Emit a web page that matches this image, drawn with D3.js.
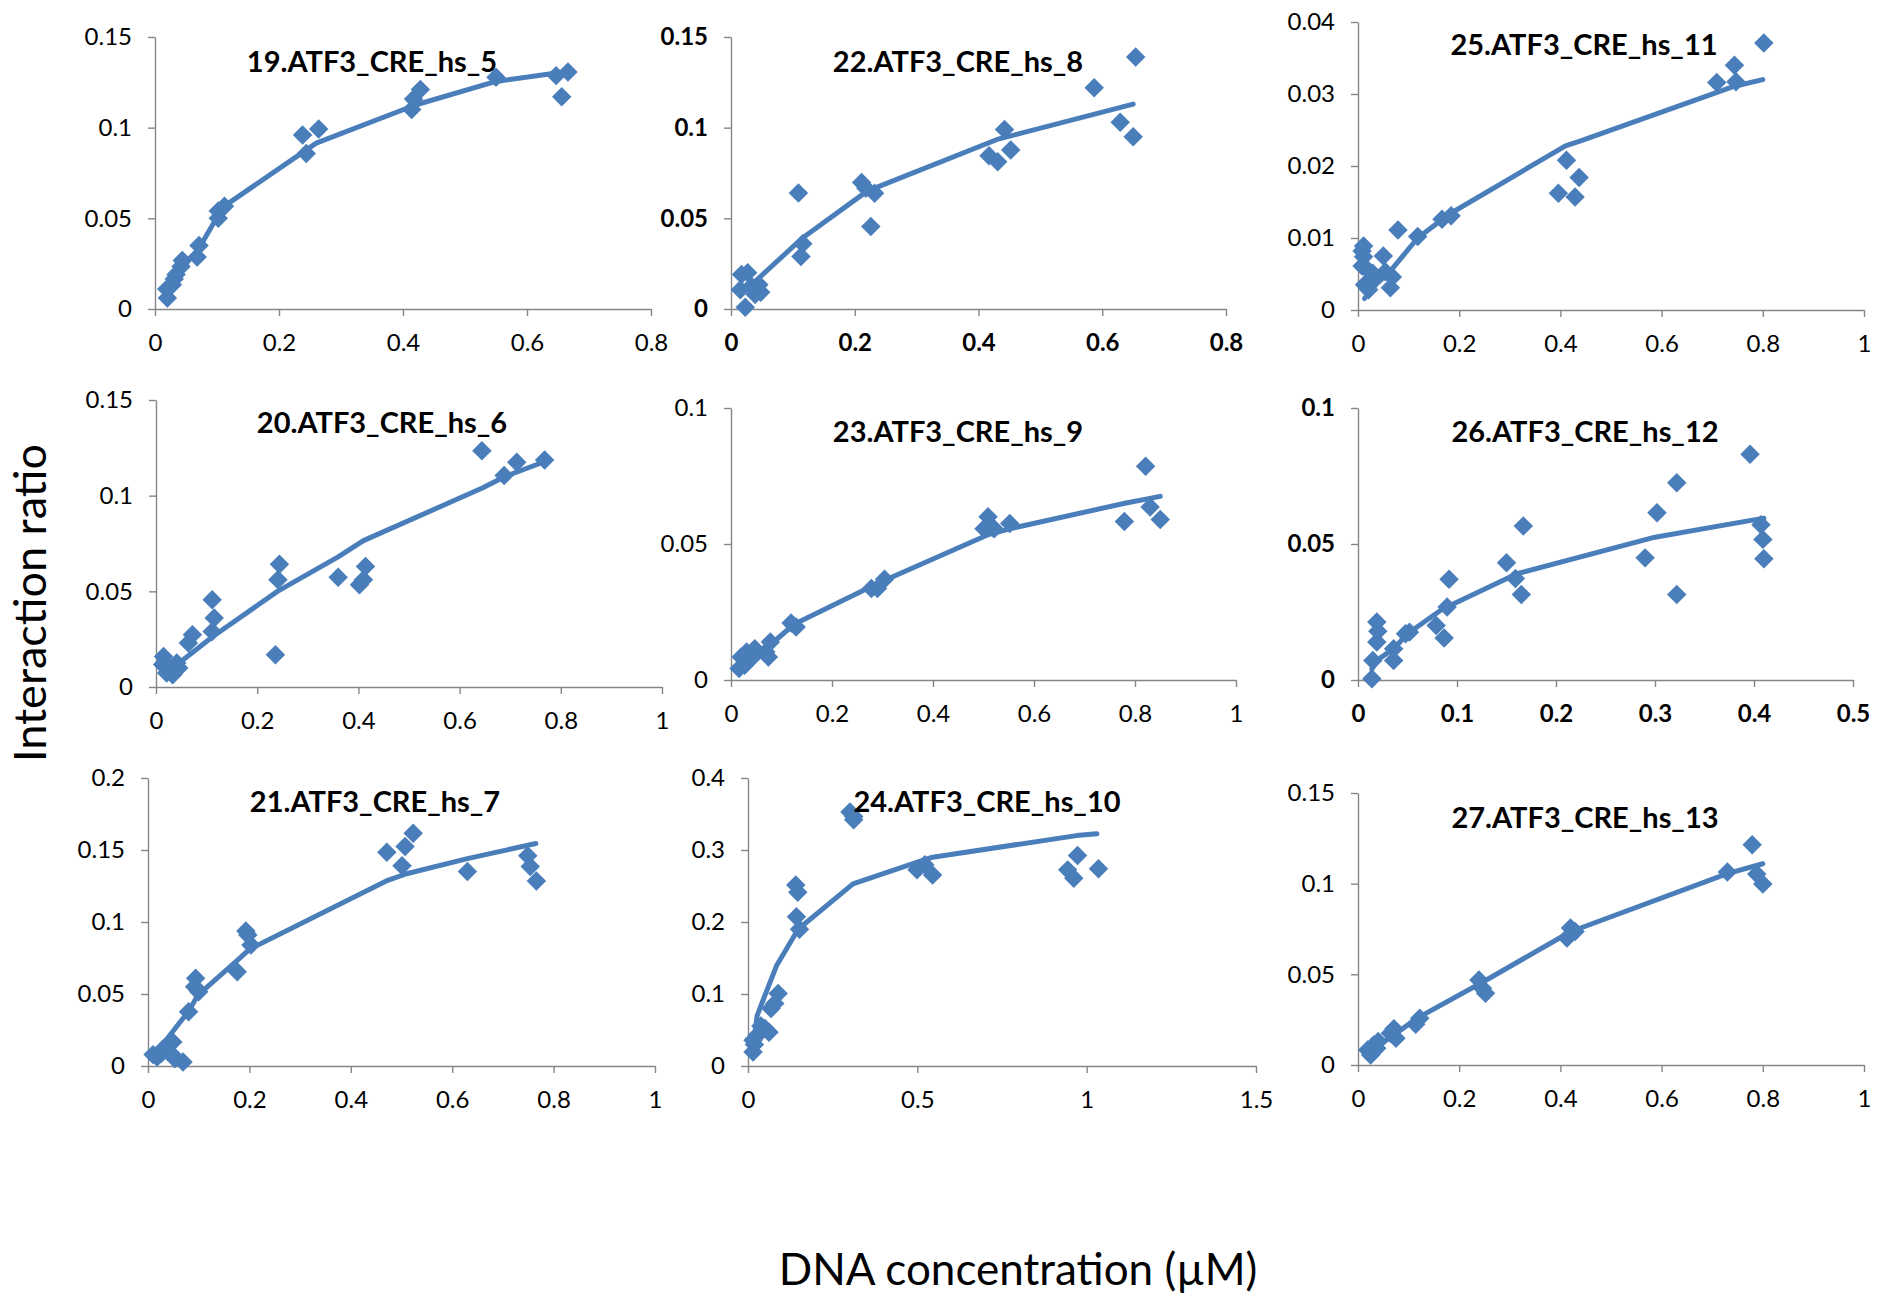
<!DOCTYPE html>
<html>
<head>
<meta charset="utf-8">
<script src="https://cdn.jsdelivr.net/npm/d3@7"></script>
<style>
  body { margin: 0; background: #fff; }
  svg { display: block; }
</style>
</head>
<body>
<svg id="chart" width="1877" height="1296"></svg>
<script>
// ---- Data: measured points [DNA µM, interaction ratio] and fitted curves ----
const panelTitles = [
  "19.ATF3_CRE_hs_5", "22.ATF3_CRE_hs_8", "25.ATF3_CRE_hs_11",
  "20.ATF3_CRE_hs_6", "23.ATF3_CRE_hs_9", "26.ATF3_CRE_hs_12",
  "21.ATF3_CRE_hs_7", "24.ATF3_CRE_hs_10", "27.ATF3_CRE_hs_13"
];

const hs5Points = [[0.020,0.006],[0.019,0.011],[0.028,0.0134],[0.031,0.0165],[0.034,0.019],[0.042,0.0235],[0.044,0.0268],[0.068,0.0287],[0.071,0.035],[0.102,0.050],[0.102,0.054],[0.112,0.0566],[0.238,0.096],[0.244,0.0857],[0.264,0.0993],[0.414,0.110],[0.417,0.1158],[0.428,0.121],[0.550,0.1278],[0.647,0.1287],[0.666,0.1307],[0.656,0.117]];
const hs5Fit = [[0.02,0.009],[0.04,0.021],[0.07,0.033],[0.105,0.0535],[0.113,0.057],[0.26,0.0915],[0.42,0.1125],[0.55,0.1255],[0.665,0.131]];

const hs8Points = [[0.023,0.001],[0.017,0.019],[0.027,0.020],[0.015,0.0106],[0.033,0.0125],[0.045,0.0134],[0.048,0.0092],[0.039,0.008],[0.109,0.064],[0.116,0.036],[0.113,0.029],[0.211,0.0697],[0.218,0.0666],[0.232,0.0638],[0.226,0.0455],[0.417,0.0845],[0.431,0.0812],[0.442,0.099],[0.452,0.0877],[0.587,0.122],[0.629,0.103],[0.650,0.095],[0.654,0.139]];
const hs8Fit = [[0.02,0.011],[0.04,0.0155],[0.115,0.039],[0.22,0.065],[0.43,0.0935],[0.65,0.113]];

const hs11Points = [[0.011,0.0089],[0.008,0.0082],[0.011,0.0074],[0.008,0.0061],[0.016,0.0058],[0.013,0.0035],[0.021,0.0028],[0.033,0.0044],[0.050,0.0075],[0.054,0.0053],[0.068,0.0046],[0.064,0.0031],[0.029,0.0051],[0.079,0.0111],[0.118,0.0102],[0.166,0.0126],[0.184,0.0131],[0.396,0.0162],[0.412,0.0208],[0.429,0.0157],[0.437,0.0184],[0.709,0.0316],[0.744,0.034],[0.747,0.0317],[0.802,0.0371]];
const hs11Fit = [[0.013,0.0016],[0.035,0.0035],[0.065,0.0055],[0.118,0.0100],[0.18,0.0133],[0.41,0.0228],[0.44,0.0235],[0.74,0.031],[0.80,0.032]];

const hs6Points = [[0.015,0.016],[0.013,0.0117],[0.021,0.0073],[0.033,0.0064],[0.041,0.0125],[0.045,0.0099],[0.027,0.0099],[0.064,0.023],[0.072,0.0273],[0.111,0.0456],[0.115,0.036],[0.111,0.029],[0.236,0.0169],[0.244,0.0642],[0.241,0.056],[0.360,0.0574],[0.402,0.0534],[0.410,0.056],[0.414,0.063],[0.644,0.1235],[0.688,0.1105],[0.713,0.1175],[0.768,0.1187]];
const hs6Fit = [[0.02,0.0095],[0.05,0.0135],[0.113,0.0265],[0.24,0.050],[0.36,0.068],[0.41,0.0765],[0.645,0.104],[0.69,0.110],[0.77,0.118]];

const hs9Points = [[0.016,0.0042],[0.020,0.0085],[0.027,0.0054],[0.031,0.0103],[0.047,0.0115],[0.043,0.0085],[0.069,0.0103],[0.074,0.0085],[0.078,0.014],[0.119,0.021],[0.129,0.0195],[0.278,0.0336],[0.290,0.0336],[0.304,0.037],[0.509,0.060],[0.501,0.0556],[0.521,0.0556],[0.552,0.0575],[0.779,0.0583],[0.821,0.0786],[0.830,0.0636],[0.850,0.059]];
const hs9Fit = [[0.016,0.0065],[0.045,0.009],[0.075,0.0125],[0.125,0.0205],[0.29,0.0355],[0.51,0.0535],[0.55,0.0555],[0.78,0.065],[0.85,0.0675]];

const hs12Points = [[0.014,0.0005],[0.015,0.0072],[0.019,0.0213],[0.020,0.0179],[0.019,0.014],[0.036,0.0115],[0.036,0.0072],[0.048,0.017],[0.052,0.0176],[0.079,0.020],[0.087,0.0154],[0.090,0.0268],[0.092,0.037],[0.150,0.0431],[0.159,0.0373],[0.165,0.0314],[0.167,0.0566],[0.290,0.0449],[0.302,0.0615],[0.322,0.0725],[0.322,0.0314],[0.396,0.083],[0.407,0.0571],[0.409,0.0517],[0.410,0.0446]];
const hs12Fit = [[0.014,0.004],[0.02,0.0075],[0.036,0.0115],[0.05,0.017],[0.085,0.026],[0.16,0.039],[0.30,0.0525],[0.41,0.0595]];

const hs7Points = [[0.010,0.0079],[0.018,0.0063],[0.026,0.0086],[0.030,0.012],[0.041,0.0155],[0.049,0.0167],[0.049,0.0074],[0.053,0.0051],[0.069,0.0028],[0.080,0.0376],[0.094,0.061],[0.092,0.055],[0.100,0.0515],[0.176,0.0654],[0.193,0.0937],[0.197,0.091],[0.203,0.084],[0.471,0.1485],[0.501,0.139],[0.507,0.1524],[0.523,0.1617],[0.630,0.135],[0.749,0.146],[0.754,0.1385],[0.766,0.1285]];
const hs7Fit = [[0.006,0.005],[0.04,0.02],[0.08,0.038],[0.098,0.049],[0.175,0.073],[0.2,0.081],[0.47,0.1285],[0.51,0.1335],[0.63,0.144],[0.765,0.1545]];

const hs10Points = [[0.015,0.0195],[0.019,0.0297],[0.015,0.0357],[0.027,0.0427],[0.038,0.0557],[0.050,0.052],[0.062,0.047],[0.068,0.0798],[0.079,0.0868],[0.089,0.1007],[0.141,0.2515],[0.147,0.2413],[0.143,0.2074],[0.152,0.190],[0.301,0.3527],[0.312,0.3466],[0.312,0.342],[0.499,0.2724],[0.522,0.2794],[0.545,0.2654],[0.944,0.2724],[0.962,0.2608],[0.973,0.2923],[1.035,0.2738]];
const hs10Fit = [[0.012,0.015],[0.027,0.070],[0.05,0.098],[0.085,0.140],[0.148,0.19],[0.31,0.253],[0.5,0.283],[0.545,0.29],[0.97,0.32],[1.03,0.3225]];

const hs13Points = [[0.019,0.0083],[0.025,0.0055],[0.031,0.011],[0.037,0.0092],[0.040,0.0129],[0.064,0.0175],[0.071,0.020],[0.075,0.0147],[0.114,0.0225],[0.122,0.0258],[0.239,0.0469],[0.246,0.0423],[0.252,0.0396],[0.413,0.070],[0.420,0.0755],[0.429,0.0736],[0.730,0.1064],[0.779,0.1215],[0.788,0.1053],[0.800,0.0998]];
const hs13Fit = [[0.018,0.0065],[0.035,0.0098],[0.07,0.0165],[0.118,0.026],[0.245,0.0455],[0.42,0.0735],[0.73,0.1055],[0.80,0.111]];

// Axis tick values per panel
const xTicks08 = [0, 0.2, 0.4, 0.6, 0.8];
const xTicks10 = [0, 0.2, 0.4, 0.6, 0.8, 1];
const xTicks05 = [0, 0.1, 0.2, 0.3, 0.4, 0.5];
const xTicks15 = [0, 0.5, 1, 1.5];
const yTicks015 = [0, 0.05, 0.1, 0.15];
const yTicks004 = [0, 0.01, 0.02, 0.03, 0.04];
const yTicks010 = [0, 0.05, 0.1];
const yTicks020 = [0, 0.05, 0.1, 0.15, 0.2];
const yTicks040 = [0, 0.1, 0.2, 0.3, 0.4];

const panelPoints = [hs5Points, hs8Points, hs11Points, hs6Points, hs9Points, hs12Points, hs7Points, hs10Points, hs13Points];
const panelFits = [hs5Fit, hs8Fit, hs11Fit, hs6Fit, hs9Fit, hs12Fit, hs7Fit, hs10Fit, hs13Fit];
const panelXTicks = [xTicks08, xTicks08, xTicks10, xTicks10, xTicks10, xTicks05, xTicks10, xTicks15, xTicks10];
const panelYTicks = [yTicks015, yTicks015, yTicks004, yTicks015, yTicks010, yTicks010, yTicks020, yTicks040, yTicks015];

// ---- Layout: plot frames (pixels) and title anchors ----
const frames = [
  {left: 155, right: 651, top: 37, bottom: 309, tx: 372, ty: 72, bold: false},
  {left: 731, right: 1226, top: 37, bottom: 309, tx: 958, ty: 72, bold: true},
  {left: 1358, right: 1864, top: 22, bottom: 310, tx: 1584, ty: 55, bold: false},
  {left: 156, right: 662, top: 400, bottom: 687, tx: 382, ty: 433, bold: false},
  {left: 731, right: 1236, top: 408, bottom: 680, tx: 958, ty: 442, bold: false},
  {left: 1358, right: 1853, top: 408, bottom: 680, tx: 1585, ty: 442, bold: true},
  {left: 148, right: 655, top: 778, bottom: 1066, tx: 375, ty: 812, bold: false},
  {left: 748, right: 1256, top: 778, bottom: 1066, tx: 987, ty: 812, bold: false},
  {left: 1358, right: 1864, top: 793, bottom: 1065, tx: 1585, ty: 828, bold: false}
];

const FONT = "Lato, 'Open Sans', 'DejaVu Sans', sans-serif";
const BLUE = "#4A7EBB";
const AXIS_GREY = "#868686";

const svg = d3.select("#chart");
svg.append("rect").attr("width", 1877).attr("height", 1296).attr("fill", "#fff");

const fmt = d3.format("~g");
const diamond = d3.symbol().type(d3.symbolSquare).size(190);

panelTitles.forEach((title, i) => {
  const f = frames[i];
  const xt = panelXTicks[i], yt = panelYTicks[i];
  const x = d3.scaleLinear().domain([xt[0], xt[xt.length - 1]]).range([f.left, f.right]);
  const y = d3.scaleLinear().domain([yt[0], yt[yt.length - 1]]).range([f.bottom, f.top]);

  const g = svg.append("g").attr("class", "panel");

  const styleAxis = sel => {
    sel.attr("font-family", FONT)
       .attr("font-size", 24)
       .attr("font-weight", f.bold ? "bold" : "normal")
       .attr("color", "#000");
    sel.selectAll("path.domain, .tick line")
       .attr("stroke", AXIS_GREY)
       .attr("stroke-width", 1.4);
  };

  g.append("g")
    .attr("transform", `translate(0,${f.bottom})`)
    .call(d3.axisBottom(x).tickValues(xt).tickFormat(fmt).tickSize(7).tickSizeOuter(0).tickPadding(18))
    .call(styleAxis);

  g.append("g")
    .attr("transform", `translate(${f.left},0)`)
    .call(d3.axisLeft(y).tickValues(yt).tickFormat(fmt).tickSize(7).tickSizeOuter(0).tickPadding(16))
    .call(styleAxis);

  // fitted curve
  g.append("path")
    .datum(panelFits[i])
    .attr("fill", "none")
    .attr("stroke", BLUE)
    .attr("stroke-width", 5)
    .attr("stroke-linejoin", "round")
    .attr("stroke-linecap", "round")
    .attr("d", d3.line().x(d => x(d[0])).y(d => y(d[1])));

  // measured points as diamonds
  g.append("g").selectAll("path")
    .data(panelPoints[i])
    .join("path")
    .attr("d", diamond)
    .attr("fill", BLUE)
    .attr("transform", d => `translate(${x(d[0])},${y(d[1])}) rotate(45)`);

  g.append("text")
    .attr("x", f.tx)
    .attr("y", f.ty)
    .attr("text-anchor", "middle")
    .attr("font-family", FONT)
    .attr("font-weight", "bold")
    .attr("font-size", 29)
    .attr("fill", "#000")
    .text(title);
});

// shared axis titles
svg.append("text")
  .attr("transform", "translate(46,603) rotate(-90)")
  .attr("text-anchor", "middle")
  .attr("font-family", FONT)
  .attr("font-size", 45)
  .attr("fill", "#000")
  .text("Interaction ratio");

svg.append("text")
  .attr("x", 1018)
  .attr("y", 1285)
  .attr("text-anchor", "middle")
  .attr("font-family", FONT)
  .attr("font-size", 44)
  .attr("fill", "#000")
  .text("DNA concentration (µM)");
</script>
</body>
</html>
